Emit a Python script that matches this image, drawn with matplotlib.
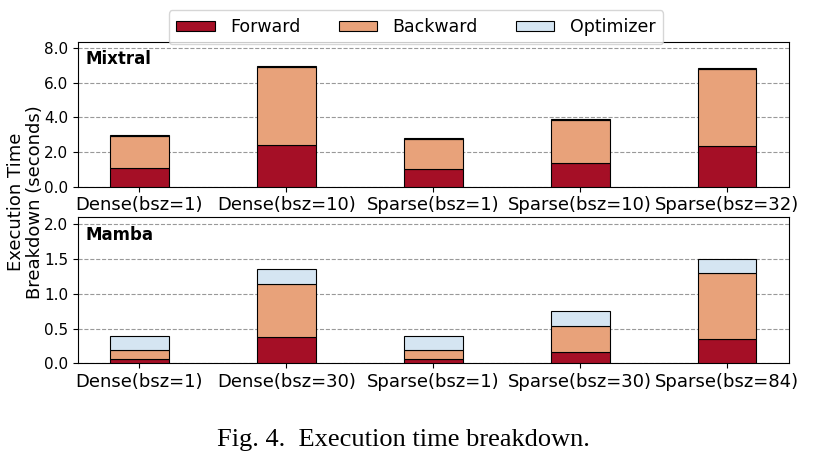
import matplotlib
matplotlib.use('Agg')

import matplotlib.pyplot as plt
from matplotlib.ticker import FormatStrFormatter
from matplotlib.patches import Patch

COLORS = ["#A50F26", "#E8A27A", "#D5E5F2"]
PARTS = ["Forward", "Backward", "Optimizer"]

mixtral_labels = ["Dense(bsz=1)", "Dense(bsz=10)", "Sparse(bsz=1)", "Sparse(bsz=10)", "Sparse(bsz=32)"]
mixtral_fwd = [1.09, 2.38, 1.00, 1.35, 2.33]
mixtral_bwd = [1.85, 4.50, 1.77, 2.48, 4.47]
mixtral_opt = [0.05, 0.05, 0.05, 0.05, 0.05]

mamba_labels = ["Dense(bsz=1)", "Dense(bsz=30)", "Sparse(bsz=1)", "Sparse(bsz=30)", "Sparse(bsz=84)"]
mamba_fwd = [0.066, 0.383, 0.066, 0.158, 0.355]
mamba_bwd = [0.120, 0.754, 0.120, 0.374, 0.940]
mamba_opt = [0.206, 0.216, 0.206, 0.216, 0.210]

WIDTH = 0.4


def stacked(ax, labels, fwd, bwd, opt, name, ymax, yticks):
    x = list(range(len(labels)))
    bottom = [0] * len(x)
    for vals, col in zip([fwd, bwd, opt], COLORS):
        ax.bar(x, vals, WIDTH, bottom=bottom, color=col, edgecolor="black", linewidth=0.8, zorder=3)
        bottom = [b + v for b, v in zip(bottom, vals)]
    ax.set_xticks(x)
    ax.set_xticklabels(labels, fontsize=13)
    ax.set_ylim(0, ymax)
    ax.set_yticks(yticks)
    ax.yaxis.set_major_formatter(FormatStrFormatter('%.1f'))
    ax.tick_params(axis='y', labelsize=11)
    ax.grid(axis='y', linestyle='--', color='gray', alpha=0.8, zorder=0)
    ax.text(0.011, 0.94, name, transform=ax.transAxes, va='top', ha='left',
            fontsize=12, fontweight='bold')


fig = plt.figure(figsize=(8.19, 4.69), dpi=100)
ax1 = fig.add_axes([0.095, 0.602, 0.868, 0.309])
ax2 = fig.add_axes([0.095, 0.2254, 0.868, 0.3113])

stacked(ax1, mixtral_labels, mixtral_fwd, mixtral_bwd, mixtral_opt, "Mixtral", 8.35, [0, 2, 4, 6, 8])
stacked(ax2, mamba_labels, mamba_fwd, mamba_bwd, mamba_opt, "Mamba", 2.1, [0, 0.5, 1.0, 1.5, 2.0])

handles = [Patch(facecolor=c, edgecolor="black", linewidth=0.8, label=p) for c, p in zip(COLORS, PARTS)]
fig.legend(handles=handles, loc='upper center', bbox_to_anchor=(0.508, 0.997), ncol=3,
           fontsize=12.5, columnspacing=2.2, handlelength=2.2, handleheight=0.55,
           handletextpad=0.9, borderpad=0.45)

fig.text(0.031, 0.569, "Execution Time\nBreakdown (seconds)", rotation=90, ha='center', va='center',
         fontsize=13, multialignment='center', linespacing=1.05)

fig.text(0.493, 0.062, "Fig. 4.  Execution time breakdown.", ha='center', va='center',
         fontsize=19, family='Liberation Serif')

plt.savefig("out.png", dpi=100)
plt.close('all')
